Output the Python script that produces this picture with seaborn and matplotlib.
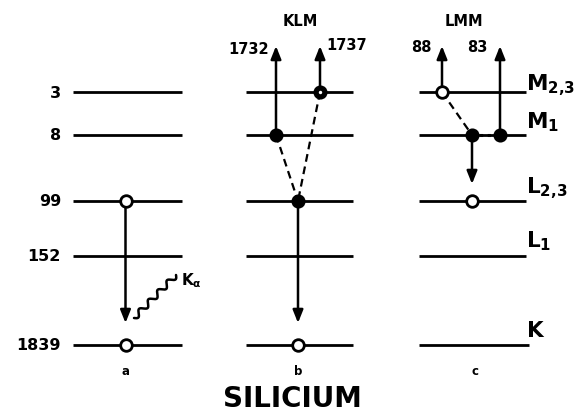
import numpy as np
import pandas as pd
import matplotlib.pyplot as plt
import seaborn as sns

# Silicon energy levels (eV) and Auger energies
shells = ['M_{2{,}3}', 'M_1', 'L_{2{,}3}', 'L_1', 'K']
energies = [3, 8, 99, 152, 1839]
klm_energies = [1732, 1737]
lmm_energies = [88, 83]
panels = ['a', 'b', 'c']

# schematic layout, pixel-like units with y going down
level_y = dict(zip(shells, [93, 136, 202, 257, 346]))
panel_span = {'a': (73, 182), 'b': (246, 353), 'c': (419, 526)}
panel_mid = {'a': 125.5, 'b': 298, 'c': 472}

# electrons / holes drawn on each panel
electrons = pd.DataFrame({
    'panel': ['a', 'a', 'b', 'b', 'b', 'b', 'c', 'c', 'c', 'c'],
    'x': [125.5, 125.5, 276, 320, 298, 298, 442, 472, 500, 472],
    'shell': ['L_{2{,}3}', 'K', 'M_1', 'M_{2{,}3}', 'L_{2{,}3}', 'K',
              'M_{2{,}3}', 'M_1', 'M_1', 'L_{2{,}3}'],
    'kind': ['open', 'open', 'filled', 'half', 'filled', 'open',
             'open', 'filled', 'filled', 'open'],
})
electrons['y'] = electrons['shell'].map(level_y)

sns.set_style('white')
plt.rcParams['font.family'] = ['DejaVu Sans']
plt.rcParams['mathtext.fontset'] = 'dejavusans'
plt.rcParams['text.color'] = 'black'

fig = plt.figure(figsize=(5.77, 4.14), dpi=100)
ax = fig.add_axes([0, 0, 1, 1])
ax.set_xlim(0, 577)
ax.set_ylim(414, 0)
ax.axis('off')

LW = 2.0

# level lines
for p in panels:
    x0, x1 = panel_span[p]
    for s in shells:
        ax.hlines(level_y[s], x0, x1 + (3 if p == 'c' and s == 'K' else 0),
                  color='black', lw=LW, zorder=1)

# energies on the left
for s, e in zip(shells, energies):
    ax.text(61, level_y[s], str(e), ha='right', va='center',
            fontsize=11.5, fontweight='bold')

# shell names on the right
label_base = dict(zip(shells, [90, 128, 193, 247, 337]))
for s in shells:
    ax.text(526, label_base[s], r'$\mathbf{' + s + '}$', ha='left',
            va='baseline', fontsize=15.5)


def arrow(x0, y0, x1, y1):
    ax.annotate('', xy=(x1, y1), xytext=(x0, y0),
                arrowprops=dict(arrowstyle='-|>,head_length=0.55,head_width=0.22',
                                mutation_scale=14, lw=1.8, color='black',
                                shrinkA=0, shrinkB=0), zorder=2)


top = 47
bottom = 324
dash = (0, (3.5, 2.2))

# panel a: L2,3 -> K with X-ray emission
arrow(125.5, level_y['L_{2{,}3}'], 125.5, bottom)
t = np.linspace(0, 1, 300)
p0 = np.array([134, 319])
p1 = np.array([176, 276])
d = p1 - p0
n = np.array([-d[1], d[0]]) / np.hypot(*d)
wave = 2.8 * np.sin(2 * np.pi * 4.5 * t)
ax.plot(p0[0] + d[0] * t + n[0] * wave, p0[1] + d[1] * t + n[1] * wave,
        color='black', lw=1.8, zorder=2)
ax.text(181, 281, r'$\mathbf{K_\alpha}$', ha='left', va='center', fontsize=11)

# panel b: KLM Auger
arrow(298, level_y['L_{2{,}3}'], 298, bottom)
arrow(276, level_y['M_1'], 276, top)
arrow(320, level_y['M_{2{,}3}'], 320, top)
ax.plot([276, 298], [level_y['M_1'], level_y['L_{2{,}3}']], color='black',
        lw=1.6, ls=dash, zorder=2)
ax.plot([320, 298], [level_y['M_{2{,}3}'], level_y['L_{2{,}3}']], color='black',
        lw=1.6, ls=dash, zorder=2)
ax.text(269, 49, str(klm_energies[0]), ha='right', va='center',
        fontsize=10.5, fontweight='bold')
ax.text(326, 46, str(klm_energies[1]), ha='left', va='center',
        fontsize=10.5, fontweight='bold')
ax.text(300, 21, 'KLM', ha='center', va='center', fontsize=10.5, fontweight='bold')

# panel c: LMM Auger
arrow(442, level_y['M_{2{,}3}'], 442, top)
arrow(500, level_y['M_1'], 500, top)
arrow(472, level_y['M_1'], 472, 185)
ax.plot([442, 472], [level_y['M_{2{,}3}'], level_y['M_1']], color='black',
        lw=1.6, ls=dash, zorder=2)
ax.plot([472, 500], [level_y['M_1'], level_y['M_1']], color='black',
        lw=2.2, ls=(0, (1, 1.5)), zorder=2)
ax.text(432, 48, str(lmm_energies[0]), ha='right', va='center',
        fontsize=10.5, fontweight='bold')
ax.text(488, 48, str(lmm_energies[1]), ha='right', va='center',
        fontsize=10.5, fontweight='bold')
ax.text(464, 21, 'LMM', ha='center', va='center', fontsize=10.5, fontweight='bold')

# electrons (filled) and holes (open)
filled = electrons[electrons['kind'].isin(['filled', 'half'])]
holes = electrons[electrons['kind'] == 'open']
sns.scatterplot(data=filled, x='x', y='y', ax=ax, s=80, color='black',
                edgecolor='black', linewidth=1.2, zorder=5, legend=False)
sns.scatterplot(data=holes, x='x', y='y', ax=ax, s=70, color='white',
                edgecolor='black', linewidth=2.0, zorder=5, legend=False)
half = electrons[electrons['kind'] == 'half']
sns.scatterplot(data=half, x='x', y='y', ax=ax, s=6, color='white',
                edgecolor='white', linewidth=0, zorder=6, legend=False)

# panel letters and title
for p in panels:
    ax.text(panel_mid[p] + (3 if p == 'c' else 0), 372, p, ha='center',
            va='center', fontsize=8.5, fontweight='bold')
ax.text(292, 399, 'SILICIUM', ha='center', va='center', fontsize=20,
        fontweight='bold')

fig.savefig('out.png', dpi=100)
